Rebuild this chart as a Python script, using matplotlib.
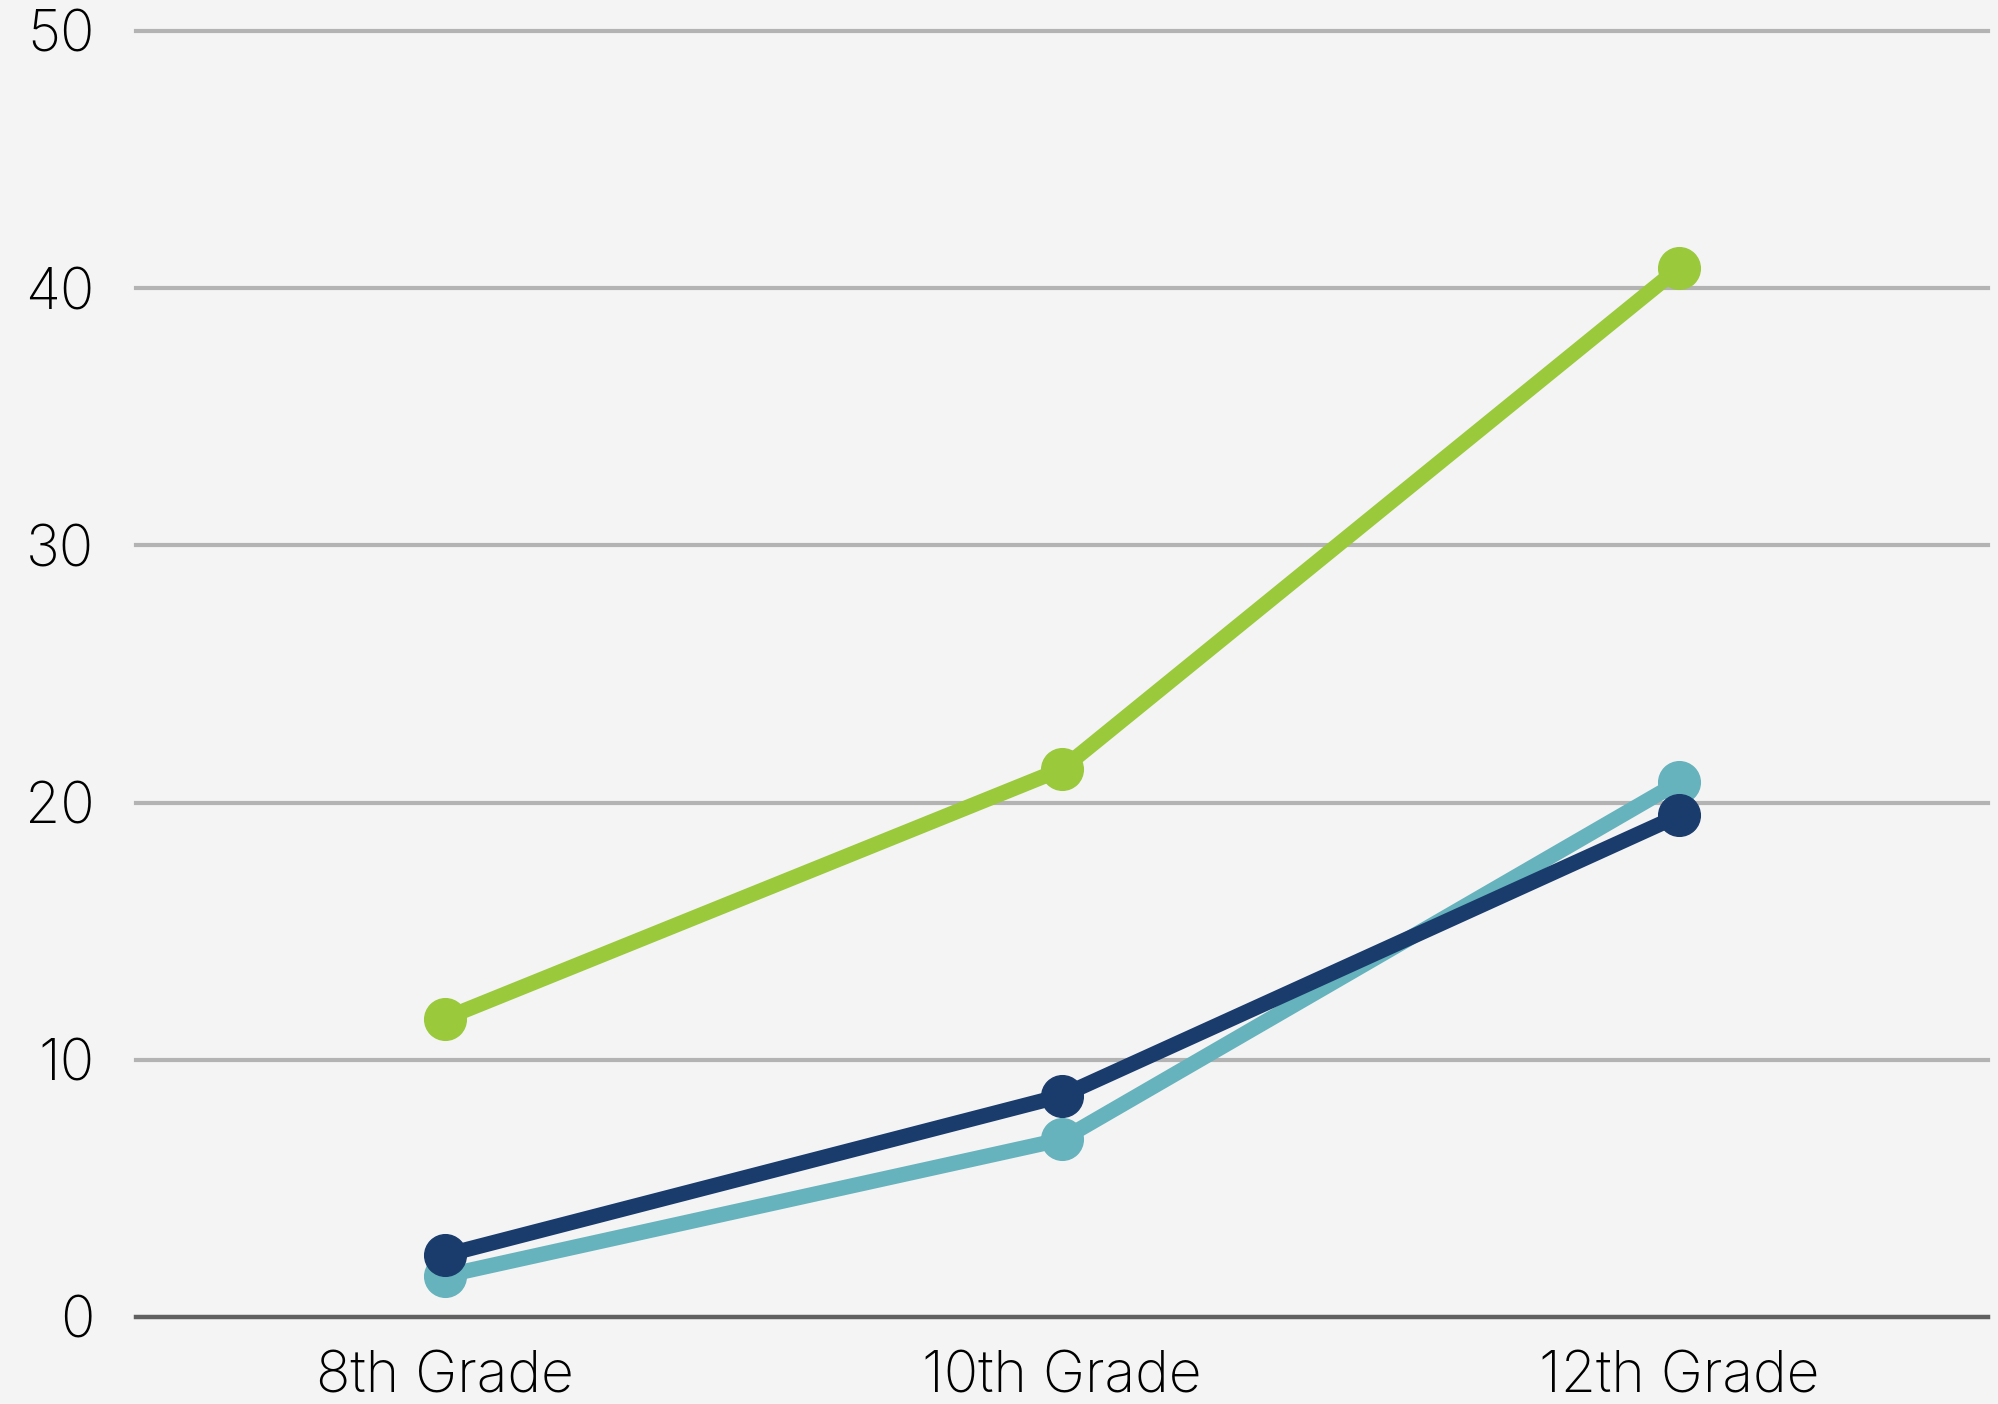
import matplotlib
matplotlib.use("Agg")
import matplotlib.pyplot as plt

categories = ["8th Grade", "10th Grade", "12th Grade"]
series_green = [11.6, 21.3, 40.8]
series_teal = [1.6, 6.9, 20.8]
series_navy = [2.4, 8.6, 19.5]
yticks = [0, 10, 20, 30, 40, 50]

plt.rcParams['font.family'] = ['Inter', 'DejaVu Sans']

fig = plt.figure(figsize=(19.98, 14.04), dpi=100)
fig.patch.set_facecolor('#F4F4F4')
ax = fig.add_axes([0.068, 0.062, 0.927, 0.916])
ax.set_facecolor('#F4F4F4')

x = list(range(len(categories)))
for vals, col, z in [(series_green, '#9AC93C', 3), (series_teal, '#66B3BD', 4), (series_navy, '#1A3C6C', 5)]:
    ax.plot(x, vals, color=col, lw=11, marker='o', markersize=30, zorder=z,
            solid_capstyle='round', solid_joinstyle='round')

ax.set_xlim(-0.5, 2.5)
ax.set_ylim(0, 50)
ax.set_yticks(yticks)
ax.set_xticks(x)
ax.set_xticklabels(categories)
for y in yticks[1:]:
    ax.axhline(y, color='#B3B3B3', lw=3, zorder=1, clip_on=False)
ax.axhline(0, color='#606060', lw=3.2, zorder=2, clip_on=False)
for s in ax.spines.values():
    s.set_visible(False)
ax.tick_params(axis='both', length=0, labelsize=41, colors='black')
ax.tick_params(axis='y', pad=30)
ax.tick_params(axis='x', pad=24)
for lab in ax.get_xticklabels() + ax.get_yticklabels():
    lab.set_fontweight('light')

fig.savefig('out.png', dpi=100, facecolor=fig.get_facecolor())
